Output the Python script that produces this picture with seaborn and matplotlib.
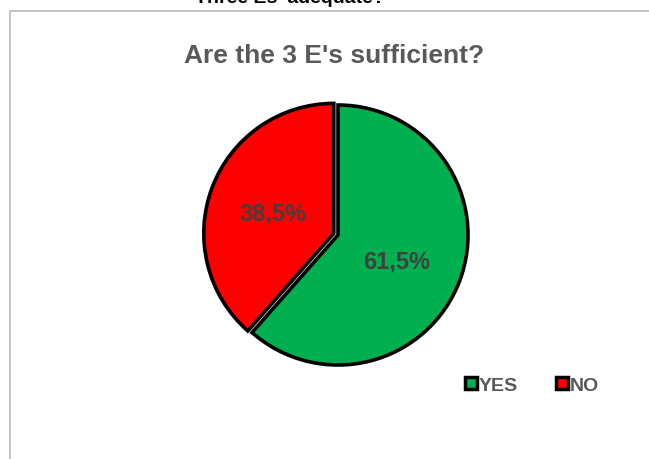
import matplotlib
matplotlib.use("Agg")
import matplotlib.pyplot as plt
import seaborn as sns
from matplotlib.patches import Rectangle
from matplotlib.lines import Line2D

categories = ["YES", "NO"]
values = [61.5, 38.5]
labels_pct = ["61,5%", "38,5%"]
colors = ["#00B050", "#FF0000"]
title = "Are the 3 E's sufficient?"
top_text = "Three Es' adequate?"

sns.set_style("white")
plt.rcParams['font.family'] = ['Liberation Sans', 'DejaVu Sans']

W, H = 649, 460
fig = plt.figure(figsize=(W / 100, H / 100), dpi=100)
ax = fig.add_axes([0, 0, 1, 1])
ax.set_xlim(0, W)
ax.set_ylim(0, H)
ax.axis("off")

# chart frame
ax.add_patch(Rectangle((9.5, -5), W + 10, H - 11 + 5 - 0.5, fill=False,
                       edgecolor="#BFBFBF", linewidth=1.3))

cx, cy, r = 338, H - 236, 130
wedges, texts = ax.pie(values, colors=colors, startangle=90, counterclock=False,
                       center=(cx, cy), radius=r, explode=[0, 4.5],
                       wedgeprops=dict(edgecolor="black", linewidth=2.6))
ax.set_xlim(0, W)
ax.set_ylim(0, H)
ax.set_aspect("equal")

ax.text(397, H - 262, labels_pct[0], ha="center", va="center", fontsize=17,
        fontweight="bold", color="#404040")
ax.text(273, H - 214, labels_pct[1], ha="center", va="center", fontsize=17,
        fontweight="bold", color="#404040")

ax.text(334, H - 56, title, ha="center", va="center", fontsize=19,
        fontweight="bold", color="#595959")
ax.text(290, H - 3, top_text, ha="center", va="baseline", fontsize=14,
        fontweight="bold", color="black")

handles = [Line2D([], [], marker="s", linestyle="none", markersize=9,
                  markerfacecolor=c, markeredgecolor="black", markeredgewidth=2.5)
           for c in colors]
leg = ax.legend(handles, categories, loc="center", bbox_to_anchor=(532 / W, 1 - 386 / H),
                ncol=2, frameon=False, handlelength=0.6, handletextpad=0.1,
                columnspacing=2.0, prop=dict(size=14, weight="bold"))
for t in leg.get_texts():
    t.set_color("#595959")

fig.savefig("out.png", dpi=100)
